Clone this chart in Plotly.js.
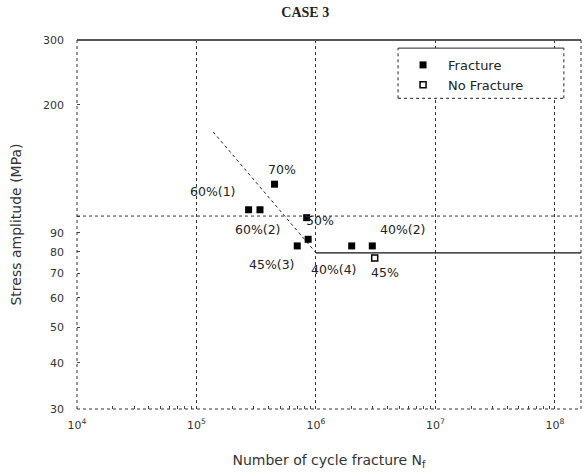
<!DOCTYPE html>
<html>
<head>
<meta charset="utf-8">
<script src="https://cdn.plot.ly/plotly-3.0.1.min.js"></script>
<style>html,body{margin:0;padding:0;background:#fff;}#chart{width:587px;height:475px;}</style>
</head>
<body>
<div id="chart"></div>
<script>
// Fracture specimens (cycles, stress amplitude MPa)
var fractureN = [4.5e5, 2.73e5, 3.4e5, 8.36e5, 8.6e5, 6.97e5, 1.99e6, 2.96e6];
var fractureS = [122, 104, 104, 99, 86.5, 83, 83, 83];
// Run-out specimen
var noFractureN = [3.1e6];
var noFractureS = [77];
// S-N curve: sloped part and endurance limit
var slopeN = [1.38e5, 1e6];
var slopeS = [169, 79.5];
var limitN = [1e6, 1.65e8];
var limitS = [79.5, 79.5];
// Point labels and where they sit (cycles, MPa)
var labelText = ['70%', '60%(1)', '60%(2)', '50%', '45%(3)', '40%(4)', '45%', '40%(2)'];
var labelN = [5.16e5, 1.37e5, 3.27e5, 1.08e6, 4.29e5, 1.42e6, 3.78e6, 5.35e6];
var labelS = [133.8, 116.3, 92.2, 97, 73.7, 71.5, 70.2, 91.7];
// Tick labels
var xTickVals = [1e4, 1e5, 1e6, 1e7, 1e8];
var xTickText = ['10<sup>4</sup>', '10<sup>5</sup>', '10<sup>6</sup>', '10<sup>7</sup>', '10<sup>8</sup>'];
var yTickVals = [30, 40, 50, 60, 70, 80, 90, 100, 200, 300];
var yTickText = ['30', '40', '50', '60', '70', '80', '90', '', '200', '300'];

var minorX = [];
for (var d = 4; d < 8; d++) { for (var m = 2; m <= 9; m++) { minorX.push(m * Math.pow(10, d)); } }
minorX.push(2e8);

var FONT = 'DejaVu Sans, Verdana, sans-serif';

var traces = [
  {x: slopeN, y: slopeS, mode: 'lines', line: {color: '#222', width: 1, dash: 'dot'}, showlegend: false, hoverinfo: 'skip'},
  {x: limitN, y: limitS, mode: 'lines', line: {color: '#111', width: 1.2}, showlegend: false, hoverinfo: 'skip'},
  {x: fractureN, y: fractureS, mode: 'markers', name: 'Fracture',
   marker: {symbol: 'square', size: 7, color: '#000'}},
  {x: noFractureN, y: noFractureS, mode: 'markers', name: 'No Fracture',
   marker: {symbol: 'square-open', size: 6, color: '#000', line: {width: 1.5, color: '#000'}}}
];

var annotations = labelText.map(function (t, i) {
  return {x: Math.log10(labelN[i]), y: Math.log10(labelS[i]), xref: 'x', yref: 'y', text: t,
          showarrow: false, font: {family: FONT, size: 12.5, color: '#222'}};
});

var dot = {color: '#333', width: 1, dash: 'dot'};
// legend frame (paper coords)
var lx0 = 0.637, lx1 = 0.966, ly0 = 0.842, ly1 = 0.978;
var shapes = [
  {type: 'line', xref: 'paper', yref: 'paper', x0: 0, x1: 1, y0: 1, y1: 1, line: {color: '#555', width: 2}},
  {type: 'line', xref: 'paper', yref: 'paper', x0: 0, x1: 0, y0: 0, y1: 1, line: dot},
  {type: 'line', xref: 'paper', yref: 'paper', x0: 0, x1: 1, y0: 0, y1: 0, line: dot},
  {type: 'line', xref: 'paper', yref: 'paper', x0: 1, x1: 1, y0: 0, y1: 1, line: dot},
  {type: 'line', xref: 'paper', yref: 'y', x0: 0, x1: 1, y0: 100, y1: 100, line: dot},
  {type: 'rect', xref: 'paper', yref: 'paper', x0: lx0, x1: lx1, y0: ly0, y1: ly1, layer: 'above',
   fillcolor: '#fff', line: {width: 0}},
  {type: 'line', xref: 'paper', yref: 'paper', x0: lx0, x1: lx1, y0: ly1, y1: ly1, layer: 'above', line: {color: '#222', width: 1}},
  {type: 'line', xref: 'paper', yref: 'paper', x0: lx0, x1: lx1, y0: ly0, y1: ly0, layer: 'above', line: {color: '#222', width: 1, dash: 'dot'}},
  {type: 'line', xref: 'paper', yref: 'paper', x0: lx0, x1: lx0, y0: ly0, y1: ly1, layer: 'above', line: {color: '#222', width: 1, dash: 'dot'}},
  {type: 'line', xref: 'paper', yref: 'paper', x0: lx1, x1: lx1, y0: ly0, y1: ly1, layer: 'above', line: {color: '#222', width: 1, dash: 'dot'}}
];

var layout = {
  width: 587, height: 475,
  margin: {l: 77, r: 6, t: 40, b: 66},
  paper_bgcolor: '#fff', plot_bgcolor: '#fff',
  font: {family: FONT, size: 11, color: '#333'},
  title: {text: '<b>CASE 3</b>', x: 0.52, xanchor: 'center', y: 0.985, yanchor: 'top',
          font: {family: 'Liberation Serif, Times New Roman, serif', size: 14, color: '#222'}},
  xaxis: {type: 'log', range: [4, 8.218], tickvals: xTickVals, ticktext: xTickText,
          showgrid: true, gridcolor: '#333', griddash: 'dot', gridwidth: 1,
          zeroline: false, showline: false, ticks: '', ticklabelstandoff: 8,
          minor: {tickvals: minorX, ticks: 'inside', ticklen: 3, tickcolor: '#444', showgrid: false},
          tickfont: {family: FONT, size: 11, color: '#333'},
          title: {text: 'Number of cycle fracture N<sub>f</sub>', standoff: 24,
                  font: {family: FONT, size: 14, color: '#333'}}},
  yaxis: {type: 'log', range: [Math.log10(30), Math.log10(300)], tickvals: yTickVals, ticktext: yTickText,
          showgrid: false, zeroline: false, showline: false, ticks: 'inside', ticklen: 3, tickcolor: '#444',
          ticklabelstandoff: 12,
          tickfont: {family: FONT, size: 11, color: '#333'},
          title: {text: 'Stress amplitude (MPa)', standoff: 18, font: {family: FONT, size: 14, color: '#333'}}},
  legend: {x: lx0, y: ly1 - 0.005, xanchor: 'left', yanchor: 'top', bgcolor: 'rgba(0,0,0,0)',
           borderwidth: 0, itemwidth: 40,
           font: {family: FONT, size: 13, color: '#222'}, tracegroupgap: 2},
  annotations: annotations,
  shapes: shapes,
  showlegend: true
};

Plotly.newPlot('chart', traces, layout, {displayModeBar: false, staticPlot: true});
</script>
</body>
</html>
